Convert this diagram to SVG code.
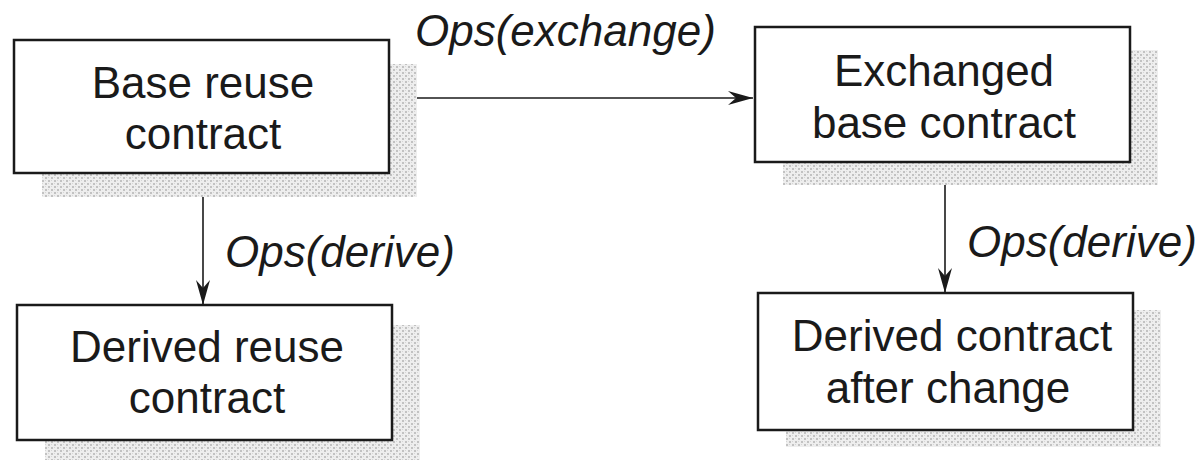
<svg xmlns="http://www.w3.org/2000/svg" width="1203" height="463" viewBox="0 0 1203 463">
  <style>
    .box { fill: #ffffff; stroke: #1a1a1a; stroke-width: 2.5; }
    .shadow { fill: url(#grain); }
    .label { font-family: "Liberation Sans", Arial, sans-serif; font-size: 44px; fill: #1a1a1a; text-anchor: middle; }
    .op { font-family: "Liberation Sans", Arial, sans-serif; font-size: 44px; font-style: italic; fill: #1a1a1a; }
    .edge { stroke: #1a1a1a; stroke-width: 1.6; fill: none; marker-end: url(#arrow); }
  </style>
  <defs>
    <!-- halftone dot texture for the drop shadows -->
    <pattern id="grain" width="6" height="6" patternUnits="userSpaceOnUse">
      <rect x="0" y="0" width="6" height="6" fill="#eeeeee"/>
      <rect x="0" y="0" width="2" height="2" fill="#c2c2c2"/>
      <rect x="3" y="3" width="2" height="2" fill="#c2c2c2"/>
      <rect x="3" y="0" width="1" height="1" fill="#d6d6d6"/>
      <rect x="0" y="3" width="1" height="1" fill="#d6d6d6"/>
    </pattern>
    <marker id="arrow" viewBox="-26 -8 27 16" refX="0" refY="0" markerWidth="27" markerHeight="16" markerUnits="userSpaceOnUse" orient="auto">
      <path d="M0,0 L-25,-7 L-17,0 L-25,7 Z" fill="#1a1a1a"/>
    </marker>
  </defs>

  <rect width="1203" height="463" fill="#ffffff"/>

  <!-- connectors -->
  <g id="connectors">
    <line class="edge" x1="389" y1="98" x2="753" y2="98"/>
    <line class="edge" x1="203" y1="173" x2="203" y2="305"/>
    <line class="edge" x1="945" y1="162" x2="945" y2="293"/>
    <text class="op" x="415" y="46">Ops(exchange)</text>
    <text class="op" x="225" y="267">Ops(derive)</text>
    <text class="op" x="967" y="257">Ops(derive)</text>
  </g>

  <!-- nodes -->
  <g id="base-reuse-contract">
    <rect class="shadow" x="42" y="64" width="375" height="133"/>
    <rect class="box" x="14" y="40" width="375" height="133"/>
    <text class="label" x="203" y="98">Base reuse</text>
    <text class="label" x="203" y="149">contract</text>
  </g>

  <g id="exchanged-base-contract">
    <rect class="shadow" x="783" y="50" width="375" height="135"/>
    <rect class="box" x="755" y="27" width="375" height="135"/>
    <text class="label" x="944" y="86">Exchanged</text>
    <text class="label" x="944" y="138">base contract</text>
  </g>

  <g id="derived-reuse-contract">
    <rect class="shadow" x="45" y="325" width="375" height="135"/>
    <rect class="box" x="17" y="305" width="375" height="135"/>
    <text class="label" x="207" y="362">Derived reuse</text>
    <text class="label" x="207" y="413">contract</text>
  </g>

  <g id="derived-contract-after-change">
    <rect class="shadow" x="786" y="310" width="375" height="137"/>
    <rect class="box" x="758" y="293" width="375" height="137"/>
    <text class="label" x="952" y="351">Derived contract</text>
    <text class="label" x="948" y="403">after change</text>
  </g>
</svg>
